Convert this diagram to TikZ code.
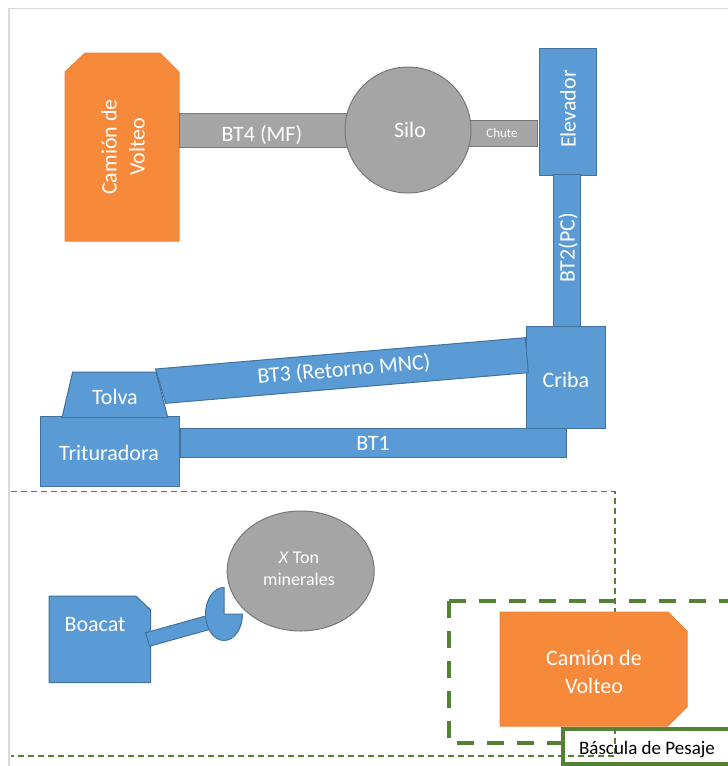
\documentclass[tikz,border=0pt]{standalone}
\usepackage{fontspec}
\setmainfont{Carlito}
\usetikzlibrary{shapes.geometric}
\definecolor{blfill}{HTML}{5B9BD5}
\definecolor{bldraw}{HTML}{41719C}
\definecolor{orfill}{HTML}{F7893B}
\definecolor{ordraw}{HTML}{EE8537}
\definecolor{gyfill}{HTML}{A5A5A5}
\definecolor{gydraw}{HTML}{787878}
\definecolor{grline}{HTML}{548235}
\definecolor{framegray}{HTML}{D9D9D9}
\begin{document}
\begin{tikzpicture}[x=1pt,y=1pt,yscale=-1,
  blk/.style={draw=bldraw, fill=blfill, line width=1pt},
  gry/.style={draw=gydraw, fill=gyfill, line width=1pt},
  org/.style={draw=ordraw, fill=orfill, line width=1pt},
  txt/.style={text=white, font=\fontsize{22pt}{28pt}\selectfont, align=center, inner sep=0pt},
  box/.style={inner sep=0pt, outer sep=0pt},
  thindash/.style={draw=grline, line width=1.3pt, dash pattern=on 6pt off 4pt},
  thickdash/.style={draw=grline, line width=3.5pt, dash pattern=on 17pt off 13pt}]
\useasboundingbox (0,0) rectangle (728,766);
% frame
\draw[framegray, line width=1.5pt] (728,8.5) -- (9,8.5) -- (9,766);

% top truck
\draw[org] (65,72) -- (85,53) -- (160,53) -- (179,72) -- (179,241) -- (65,241) -- cycle;
\node[txt, rotate=90] (truckA) at (123,147) {Camión de\\Volteo};

% BT4, chute, silo
\node[gry, box, minimum width=168pt, minimum height=34pt] (bt4) at (263,130) {};
\node[txt] (bt4t) at (262,135) {BT4 (MF)};
\node[gry, box, minimum width=77pt, minimum height=26pt] (chute) at (498.5,133) {};
\node[text=white, font=\fontsize{13pt}{15pt}\selectfont, inner sep=0pt] (chutet) at (502,133) {Chute};
\node[gry, circle, box, minimum size=126pt] (silo) at (408,130) {};
\node[txt] (silot) at (410,130) {Silo};

% elevator and BT2
\node[blk, box, minimum width=127pt, minimum height=57pt, rotate=90] (elev) at (567.5,111.5) {};
\node[txt, rotate=90] (elevt) at (568,109) {Elevador};
\node[blk, box, minimum width=151.5pt, minimum height=27.5pt, rotate=90] (bt2) at (566.8,250.5) {};
\node[txt, rotate=90] (bt2t) at (568,248) {BT2(PC)};

% Criba
\node[blk, box, minimum width=79.3pt, minimum height=101.6pt] (criba) at (566.3,377.5) {};
\node[txt] (cribat) at (566,380) {Criba};

% BT3
\draw[blk] (155.5,369) -- (525.3,337.7) -- (528.3,372.7) -- (165.7,403.3) -- cycle;
\node[txt, rotate=4.8] (bt3t) at (344,370) {BT3 (Retorno MNC)};

% BT1
\node[blk, box, minimum width=386pt, minimum height=28.5pt] (bt1) at (373.7,443.2) {};
\node[txt] (bt1t) at (373,443) {BT1};

% Trituradora and Tolva
\node[blk, box, minimum width=139pt, minimum height=70pt] (trit) at (109.8,451.7) {};
\node[txt] (tritt) at (109,452.5) {Trituradora};
\draw[blk] (72.7,372) -- (156,372) -- (167.7,417.5) -- (62,417.5) -- cycle;
\node[txt] (tolvat) at (115,397) {Tolva};

% thin dashed zone
\draw[thindash] (11,491.5) -- (615,491.5) -- (615,756) -- (11,756);

% X Ton minerales
\node[gry, ellipse, box, minimum width=147pt, minimum height=120pt] (xton) at (300.7,571) {};
\node[text=white, font=\fontsize{18pt}{22pt}\selectfont, align=center, inner sep=0pt] (xtont) at (299,569) {\textit{X} Ton\\minerales};

% Boacat with arm and bucket
\draw[blk] (49,596) -- (136,596) -- (150.7,610) -- (150.7,682.7) -- (49,682.7) -- cycle;
\node[txt] (boacat) at (95,625) {Boacat};
\draw[blk] (145.7,632.7) -- (217.9,612.6) -- (221.7,626.1) -- (149.5,646.2) -- cycle;
\draw[blk] (224,614) -- (242.5,614) arc[start angle=0, end angle=270, x radius=18.5, y radius=26.5] -- cycle;

% weighing zone
\draw[thickdash] (449,601) -- (730,601);
\draw[thickdash] (449,601) -- (449,743) -- (563,743);
\draw[org] (500,612) -- (668,612) -- (687,631) -- (687,707) -- (668,726) -- (500,726) -- cycle;
\node[txt] (truckB) at (594,672) {Camión de\\Volteo};
\draw[grline, line width=3.5pt] (740,729) -- (563,729) -- (563,764) -- (740,764);
\node[font=\fontsize{19pt}{22pt}\selectfont, inner sep=0pt] (bascula) at (647,750) {Báscula de Pesaje};
\end{tikzpicture}
\end{document}
